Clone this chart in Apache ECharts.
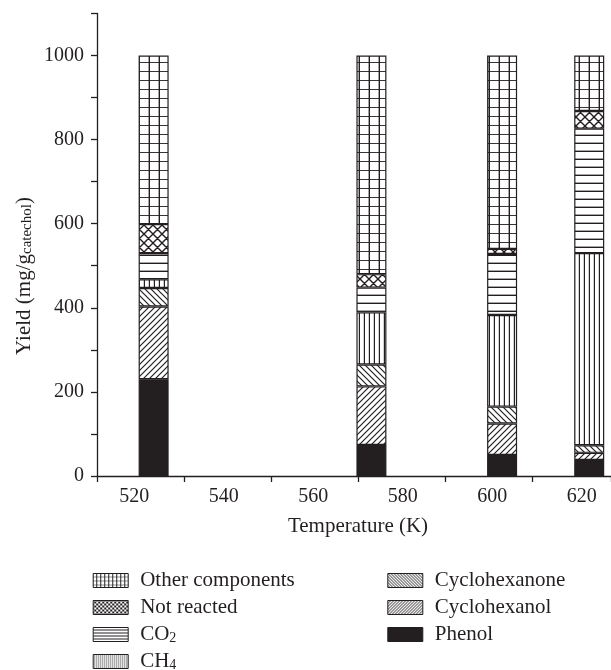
<!DOCTYPE html>
<html>
<head>
<meta charset="utf-8">
<script src="https://cdn.jsdelivr.net/npm/echarts@6/dist/echarts.min.js"></script>
<style>
  html, body { margin: 0; padding: 0; background: #fff; }
  #chart { width: 611px; height: 670px; }
</style>
</head>
<body>
<div id="chart"></div>
<script>
// temperatures (K) of the four runs
const temps = [523, 573, 603, 623];
// yields in mg per g catechol, stacked bottom -> top
const phenol = [230, 74, 50, 38];
const cyclohexanol = [173, 139, 75, 17];
const cyclohexanone = [44, 52, 40, 18];
const ch4 = [21, 124, 218, 457];
const co2 = [62, 59, 145, 296];
const notReacted = [69, 32, 12, 42];
const others = [401, 520, 460, 132];
// tick labels
const xLabels = [520, 540, 560, 580, 600, 620];
const yLabels = [0, 200, 400, 600, 800, 1000];

const INK = "#231f20";
const FONT = "Liberation Serif";

// small canvas tiles used as hatch fills
function tile(w, h, draw) {
  const c = document.createElement("canvas");
  c.width = w;
  c.height = h;
  const ctx = c.getContext("2d");
  ctx.fillStyle = "#fff";
  ctx.fillRect(0, 0, w, h);
  ctx.fillStyle = INK;
  ctx.strokeStyle = INK;
  draw(ctx, w, h);
  return { image: c, repeat: "repeat" };
}
function gridTile(w, h, lw) {
  return tile(w, h, (ctx) => {
    ctx.fillRect(w - lw, 0, lw, h);
    ctx.fillRect(0, h - lw, w, lw);
  });
}
function hTile(p, lw) {
  return tile(4, p, (ctx, w, h) => ctx.fillRect(0, h - lw, w, lw));
}
function vTile(p, lw) {
  return tile(p, 4, (ctx, w, h) => ctx.fillRect(w - lw, 0, lw, h));
}
function diagTile(p, lw, dir) {
  return tile(p, p, (ctx) => {
    ctx.lineWidth = lw;
    ctx.beginPath();
    if (dir === "/" || dir === "x") {
      ctx.moveTo(0, p); ctx.lineTo(p, 0);
      ctx.moveTo(-1, 1); ctx.lineTo(1, -1);
      ctx.moveTo(p - 1, p + 1); ctx.lineTo(p + 1, p - 1);
    }
    if (dir === "\\" || dir === "x") {
      ctx.moveTo(0, 0); ctx.lineTo(p, p);
      ctx.moveTo(p - 1, -1); ctx.lineTo(p + 1, 1);
      ctx.moveTo(-1, p - 1); ctx.lineTo(1, p + 1);
    }
    ctx.stroke();
  });
}

const fills = {
  "Other components": gridTile(10, 9.5, 1.4),
  "Not reacted": diagTile(9, 1.4, "x"),
  "CO2": hTile(8, 1.4),
  "CH4": vTile(5, 1.2),
  "Cyclohexanone": diagTile(6, 1.2, "\\"),
  "Cyclohexanol": diagTile(6, 1.2, "/"),
  "Phenol": INK,
};
// finer tiles for the legend swatches
const legendFills = {
  "Other components": gridTile(4, 4.5, 1),
  "Not reacted": diagTile(4, 1, "x"),
  "CO2": hTile(3, 1),
  "CH4": vTile(2.5, 1),
  "Cyclohexanone": diagTile(3, 1, "\\"),
  "Cyclohexanol": diagTile(3, 1, "/"),
  "Phenol": INK,
};

const stackOrder = [
  ["Phenol", phenol],
  ["Cyclohexanol", cyclohexanol],
  ["Cyclohexanone", cyclohexanone],
  ["CH4", ch4],
  ["CO2", co2],
  ["Not reacted", notReacted],
  ["Other components", others],
];

// value goes first in each pair so the stack is built on the yield dimension
const series = stackOrder.map(([name, vals]) => ({
  name,
  type: "bar",
  stack: "total",
  xAxisIndex: 0,
  yAxisIndex: 0,
  barWidth: 30,
  encode: { x: 1, y: 0 },
  data: temps.map((t, i) => [vals[i], t]),
  itemStyle: { color: fills[name], borderColor: INK, borderWidth: 1.2 },
}));

const sub = { fontFamily: FONT, fontSize: 14, lineHeight: 14, verticalAlign: "bottom", color: INK };
const legendText = {
  fontFamily: FONT, fontSize: 21, lineHeight: 21, color: INK,
  padding: [0, 0, 0, 7],
  rich: { sub },
};
const legendName = (n) =>
  n === "CO2" ? "CO{sub|2}" : n === "CH4" ? "CH{sub|4}" : n;
const legendData = (names) =>
  names.map((n) => ({
    name: n,
    icon: "rect",
    itemStyle: { color: legendFills[n], borderColor: INK, borderWidth: 1 },
  }));

const chart = echarts.init(document.getElementById("chart"));
chart.setOption({
  animation: false,
  grid: [
    { left: 97, right: 0, top: 13.4, bottom: 194 },
    { left: 134.3, width: 447.4, top: 13.4, bottom: 194 },
  ],
  xAxis: [
    {
      gridIndex: 0,
      type: "value",
      min: 510,
      max: 628,
      interval: 20,
      axisLine: { lineStyle: { color: INK, width: 1.3 } },
      axisTick: { length: 6, lineStyle: { color: INK, width: 1.3 } },
      axisLabel: { show: false },
      splitLine: { show: false },
    },
    {
      gridIndex: 1,
      type: "value",
      min: xLabels[0],
      max: xLabels[xLabels.length - 1],
      interval: 20,
      axisLine: { show: false },
      axisTick: { show: false },
      splitLine: { show: false },
      axisLabel: {
        margin: 11,
        fontFamily: FONT,
        fontSize: 20,
        color: INK,
        showMinLabel: true,
        showMaxLabel: true,
        formatter: (v) => (xLabels.includes(v) ? String(v) : ""),
      },
      name: "Temperature (K)",
      nameLocation: "middle",
      nameGap: 40,
      nameTextStyle: { fontFamily: FONT, fontSize: 21, color: INK },
    },
  ],
  yAxis: [
    {
      gridIndex: 0,
      type: "value",
      min: 0,
      max: 1100,
      interval: 100,
      axisLine: { show: true, lineStyle: { color: INK, width: 1.3 } },
      axisTick: { show: true, length: 6, lineStyle: { color: INK, width: 1.3 } },
      splitLine: { show: false },
      axisLabel: {
        margin: 13,
        fontFamily: FONT,
        fontSize: 20,
        color: INK,
        formatter: (v) => (yLabels.includes(v) ? String(v) : ""),
      },
    },
    { gridIndex: 1, type: "value", show: false, min: 0, max: 1100 },
  ],
  legend: [
    {
      orient: "vertical",
      left: 92.7,
      top: 570,
      height: 120,
      padding: 0,
      itemWidth: 35,
      itemHeight: 14,
      itemGap: 6,
      selectedMode: false,
      data: legendData(["Other components", "Not reacted", "CO2", "CH4"]),
      formatter: legendName,
      textStyle: legendText,
    },
    {
      orient: "vertical",
      left: 387.3,
      top: 570,
      height: 120,
      padding: 0,
      itemWidth: 35,
      itemHeight: 14,
      itemGap: 6,
      selectedMode: false,
      data: legendData(["Cyclohexanone", "Cyclohexanol", "Phenol"]),
      formatter: legendName,
      textStyle: legendText,
    },
  ],
  graphic: [
    {
      type: "text",
      x: 24,
      y: 276,
      rotation: Math.PI / 2,
      style: {
        text: "Yield (mg/g{sub|catechol})",
        fontFamily: FONT,
        fontSize: 21,
        fontWeight: "normal",
        lineHeight: 21,
        fill: INK,
        align: "center",
        verticalAlign: "middle",
        rich: { sub: { fontFamily: FONT, fontSize: 15, fontWeight: "normal", lineHeight: 15, verticalAlign: "bottom", fill: INK } },
      },
    },
  ],
  series,
});
</script>
</body>
</html>
